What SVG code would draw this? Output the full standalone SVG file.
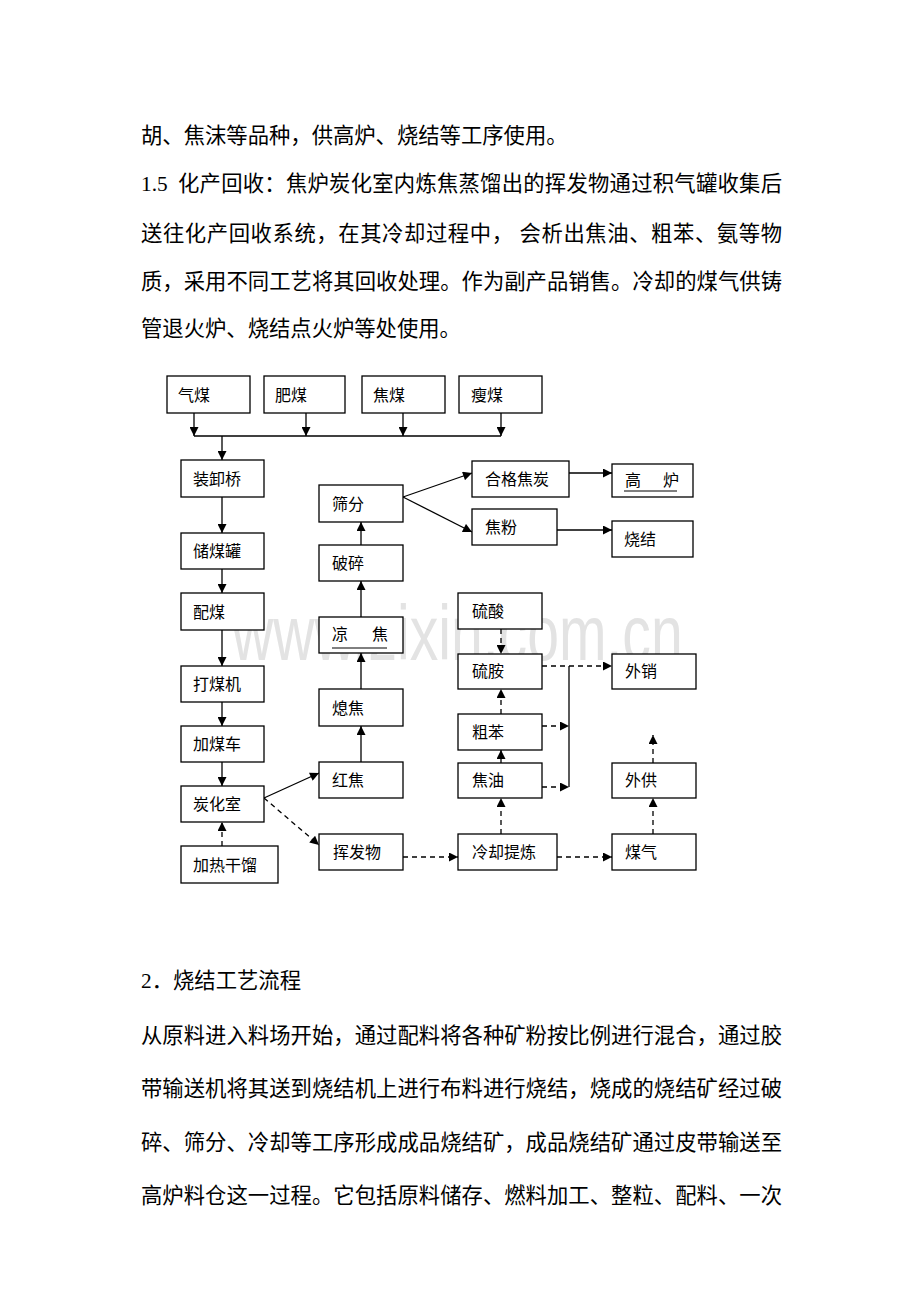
<svg xmlns="http://www.w3.org/2000/svg" width="920" height="1302" viewBox="0 0 920 1302">
<defs>
<marker id="ah" viewBox="0 0 10 10" refX="10" refY="5" markerWidth="10" markerHeight="9" markerUnits="userSpaceOnUse" orient="auto">
<path d="M0,0 L10,5 L0,10 z" fill="#000"/>
</marker>
<style>
.body{font-family:"Liberation Serif","Noto Sans CJK SC",serif;font-size:21.33px;fill:#000}
.lbl{font-family:"Liberation Serif","Noto Sans CJK SC",serif;font-size:16px;fill:#000}
.box{fill:#fff;stroke:#000;stroke-width:1.3}
.c{fill:none;stroke:#000;stroke-width:1.3}
.a{fill:none;stroke:#000;stroke-width:1.3;marker-end:url(#ah)}
.d{fill:none;stroke:#000;stroke-width:1.3;stroke-dasharray:5,4;marker-end:url(#ah)}
.wm{font-family:"Liberation Sans",Arial,sans-serif;font-size:77px;fill:#e3e3e3}
</style>
</defs>
<rect width="920" height="1302" fill="#fff"/>

<g id="text-top">
<text class="body" x="141" y="143">胡、焦沫等品种，供高炉、烧结等工序使用。</text>
<text class="body" x="141" y="191">1.5</text>
<text class="body" x="178" y="191" textLength="604" lengthAdjust="spacing">化产回收：焦炉炭化室内炼焦蒸馏出的挥发物通过积气罐收集后</text>
<text class="body" x="141" y="241" textLength="641" lengthAdjust="spacing">送往化产回收系统，在其冷却过程中， 会析出焦油、粗苯、氨等物</text>
<text class="body" x="141" y="289" textLength="641" lengthAdjust="spacing">质，采用不同工艺将其回收处理。作为副产品销售。冷却的煤气供铸</text>
<text class="body" x="141" y="336">管退火炉、烧结点火炉等处使用。</text>
</g>

<text class="wm" x="232" y="660" transform="translate(232 0) scale(0.742 1) translate(-232 0)">www.zixin.com.cn</text>

<g id="connectors">
<line class="a" x1="194" y1="413" x2="194" y2="436"/>
<line class="a" x1="306" y1="413" x2="306" y2="436"/>
<line class="a" x1="403" y1="413" x2="403" y2="436"/>
<line class="a" x1="501" y1="413" x2="501" y2="436"/>
<line class="c" x1="194" y1="436" x2="501" y2="436"/>
<line class="a" x1="222" y1="436" x2="222" y2="460"/>
<line class="a" x1="222" y1="497" x2="222" y2="533"/>
<line class="a" x1="222" y1="569" x2="222" y2="593"/>
<line class="a" x1="222" y1="630" x2="222" y2="666"/>
<line class="a" x1="222" y1="702" x2="222" y2="726"/>
<line class="a" x1="222" y1="762" x2="222" y2="786"/>
<line class="d" x1="222" y1="846" x2="222" y2="822"/>
<line class="a" x1="264" y1="798" x2="319" y2="773"/>
<line class="d" x1="264" y1="798" x2="319" y2="845"/>
<line class="a" x1="361" y1="762" x2="361" y2="726"/>
<line class="a" x1="361" y1="689" x2="361" y2="653"/>
<line class="a" x1="361" y1="617" x2="361" y2="581"/>
<line class="a" x1="361" y1="545" x2="361" y2="522"/>
<line class="a" x1="403" y1="497" x2="472" y2="473"/>
<line class="a" x1="403" y1="497" x2="472" y2="532"/>
<line class="a" x1="569" y1="473" x2="612" y2="473"/>
<line class="a" x1="557" y1="530" x2="612" y2="530"/>
<line class="d" x1="403" y1="857" x2="458" y2="857"/>
<line class="d" x1="557" y1="857" x2="612" y2="857"/>
<line class="d" x1="501" y1="834" x2="501" y2="798"/>
<line class="d" x1="501" y1="763" x2="501" y2="750"/>
<line class="d" x1="501" y1="714" x2="501" y2="689"/>
<line class="d" x1="501" y1="629" x2="501" y2="654"/>
<line class="d" x1="542" y1="666" x2="612" y2="666"/>
<line class="d" x1="542" y1="726" x2="569" y2="726"/>
<line class="d" x1="542" y1="787" x2="569" y2="787"/>
<line class="c" x1="569" y1="666" x2="569" y2="787"/>
<line class="d" x1="653" y1="834" x2="653" y2="798"/>
<line class="d" x1="653" y1="763" x2="653" y2="735"/>
</g>

<g id="n-qimei"><rect class="box" x="167" y="376" width="83" height="37"/><text class="lbl" x="178" y="401">气煤</text></g>
<g id="n-feimei"><rect class="box" x="264" y="376" width="81" height="37"/><text class="lbl" x="275" y="401">肥煤</text></g>
<g id="n-jiaomei"><rect class="box" x="362" y="376" width="83" height="37"/><text class="lbl" x="373" y="401">焦煤</text></g>
<g id="n-shoumei"><rect class="box" x="459" y="376" width="83" height="37"/><text class="lbl" x="471" y="401">瘦煤</text></g>

<g id="n-zhuangxieqiao"><rect class="box" x="181" y="460" width="83" height="37"/><text class="lbl" x="193" y="485">装卸桥</text></g>
<g id="n-chumeiguan"><rect class="box" x="181" y="533" width="83" height="36"/><text class="lbl" x="193" y="557">储煤罐</text></g>
<g id="n-peimei"><rect class="box" x="181" y="593" width="83" height="37"/><text class="lbl" x="193" y="618">配煤</text></g>
<g id="n-dameiji"><rect class="box" x="181" y="666" width="83" height="36"/><text class="lbl" x="193" y="690">打煤机</text></g>
<g id="n-jiameiche"><rect class="box" x="181" y="726" width="83" height="36"/><text class="lbl" x="193" y="750">加煤车</text></g>
<g id="n-tanhuashi"><rect class="box" x="181" y="786" width="83" height="36"/><text class="lbl" x="193" y="810">炭化室</text></g>
<g id="n-jiare"><rect class="box" x="181" y="846" width="97" height="37"/><text class="lbl" x="193" y="871">加热干馏</text></g>

<g id="n-shaifen"><rect class="box" x="319" y="485" width="84" height="37"/><text class="lbl" x="332" y="510">筛分</text></g>
<g id="n-posui"><rect class="box" x="319" y="545" width="84" height="36"/><text class="lbl" x="332" y="569">破碎</text></g>
<g id="n-liangjiao"><rect class="box" x="319" y="617" width="84" height="36"/><text class="lbl" x="332" y="640">凉</text><text class="lbl" x="372" y="640">焦</text><line x1="332" y1="648" x2="387" y2="648" stroke="#000" stroke-width="1"/></g>
<g id="n-xijiao"><rect class="box" x="319" y="689" width="84" height="37"/><text class="lbl" x="332" y="714">熄焦</text></g>
<g id="n-hongjiao"><rect class="box" x="319" y="762" width="84" height="36"/><text class="lbl" x="332" y="786">红焦</text></g>
<g id="n-huifawu"><rect class="box" x="319" y="834" width="84" height="36"/><text class="lbl" x="333" y="858">挥发物</text></g>

<g id="n-hegejiaotan"><rect class="box" x="472" y="461" width="97" height="36"/><text class="lbl" x="485" y="485">合格焦炭</text></g>
<g id="n-jiaofen"><rect class="box" x="472" y="509" width="85" height="36"/><text class="lbl" x="485" y="533">焦粉</text></g>
<g id="n-gaolu"><rect class="box" x="612" y="464" width="81" height="33"/><text class="lbl" x="625" y="486">高</text><text class="lbl" x="663" y="486">炉</text><line x1="624" y1="491" x2="677" y2="491" stroke="#000" stroke-width="1"/></g>
<g id="n-shaojie"><rect class="box" x="612" y="521" width="81" height="36"/><text class="lbl" x="624" y="545">烧结</text></g>

<g id="n-liusuan"><rect class="box" x="458" y="593" width="84" height="36"/><text class="lbl" x="472" y="617">硫酸</text></g>
<g id="n-liuan"><rect class="box" x="458" y="654" width="84" height="35"/><text class="lbl" x="472" y="677">硫胺</text></g>
<g id="n-cuben"><rect class="box" x="458" y="714" width="84" height="36"/><text class="lbl" x="472" y="738">粗苯</text></g>
<g id="n-jiaoyou"><rect class="box" x="458" y="763" width="84" height="35"/><text class="lbl" x="472" y="786">焦油</text></g>
<g id="n-lengque"><rect class="box" x="458" y="834" width="99" height="36"/><text class="lbl" x="472" y="858">冷却提炼</text></g>
<g id="n-waixiao"><rect class="box" x="612" y="654" width="84" height="35"/><text class="lbl" x="625" y="677">外销</text></g>
<g id="n-waigong"><rect class="box" x="612" y="763" width="84" height="35"/><text class="lbl" x="625" y="786">外供</text></g>
<g id="n-meiqi"><rect class="box" x="612" y="834" width="84" height="36"/><text class="lbl" x="625" y="858">煤气</text></g>

<g id="text-bottom">
<text class="body" x="141" y="988">2．烧结工艺流程</text>
<text class="body" x="141" y="1043" textLength="641" lengthAdjust="spacing">从原料进入料场开始，通过配料将各种矿粉按比例进行混合，通过胶</text>
<text class="body" x="141" y="1096" textLength="641" lengthAdjust="spacing">带输送机将其送到烧结机上进行布料进行烧结，烧成的烧结矿经过破</text>
<text class="body" x="141" y="1150" textLength="641" lengthAdjust="spacing">碎、筛分、冷却等工序形成成品烧结矿，成品烧结矿通过皮带输送至</text>
<text class="body" x="141" y="1203" textLength="641" lengthAdjust="spacing">高炉料仓这一过程。它包括原料储存、燃料加工、整粒、配料、一次</text>
</g>
</svg>
